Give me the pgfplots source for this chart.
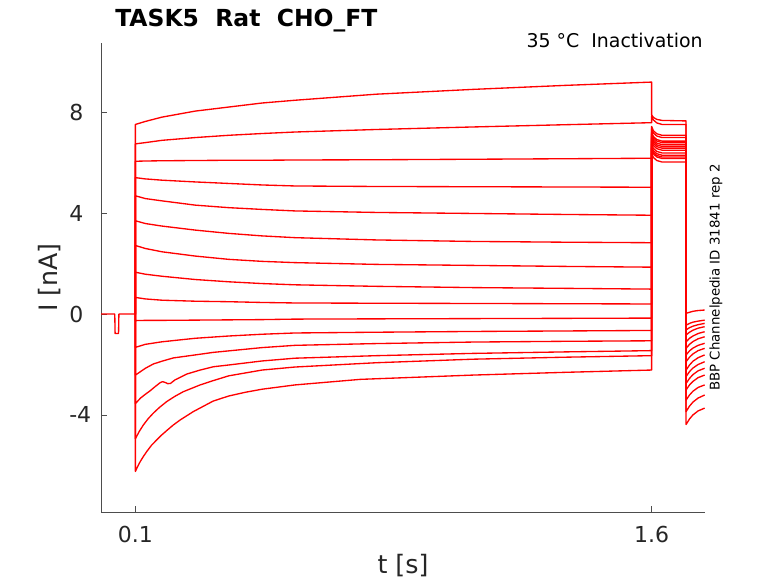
\documentclass[border=0pt]{standalone}
\usepackage{fontspec}
\setmainfont{DejaVu Sans}
\usepackage{pgfplots}
\pgfplotsset{compat=1.18}
\definecolor{axgray}{HTML}{262626}
\definecolor{axline}{HTML}{4D4D4D}
\tikzset{tr/.style={red, line width=1pt, no markers, solid, line join=round}}
\begin{document}
\begin{tikzpicture}
\path[use as bounding box] (-75.75pt,-53.25pt) rectangle (507.75pt,384pt);
\begin{axis}[
  at={(0pt,0pt)}, anchor=south west,
  scale only axis, width=453pt, height=351.75pt,
  xmin=0, xmax=1.755, ymin=-7.85, ymax=10.75,
  axis x line*=bottom, axis y line*=left,
  axis line style={axline, line width=0.6pt, -},
  tick style={axline, line width=0.6pt},
  tick align=inside, major tick length=4.5pt,
  xtick={0.1,1.6}, xticklabels={0.1,1.6},
  ytick={-4,0,4,8}, yticklabels={-4,0,4,8},
  ticklabel style={font=\fontsize{16.5}{16.5}\selectfont, text=axgray},
  xticklabel style={anchor=north, inner sep=0pt, yshift=-10.5pt},
  yticklabel style={anchor=west, inner sep=0pt, xshift=-24pt},
  clip=false,
]
% holding segment with short test pulse
\addplot[tr] coordinates {(0,0) (0.040,0) (0.041,-0.77) (0.051,-0.77) (0.052,0) (0.1,0)};
% trace 1
\addplot[tr] coordinates {(0.1,0) (0.1,7.52) (0.129,7.64) (0.177,7.81) (0.274,8.05) (0.371,8.21) (0.468,8.37) (0.564,8.48) (0.8,8.72) (1.08,8.91) (1.35,9.07) (1.6,9.20)
 (1.6,7.90) (1.605,7.80) (1.615,7.72) (1.63,7.68) (1.70,7.66)
 (1.70,0.03) (1.71,0.07) (1.72,0.11) (1.735,0.14) (1.754,0.16)};
% trace 2
\addplot[tr] coordinates {(0.1,0) (0.1,6.75) (0.129,6.80) (0.177,6.89) (0.274,7.00) (0.371,7.09) (0.468,7.16) (0.564,7.22) (0.8,7.32) (1.08,7.42) (1.35,7.51) (1.6,7.59)
 (1.6,7.87) (1.605,7.70) (1.615,7.58) (1.63,7.52) (1.70,7.52)
 (1.70,-0.44) (1.71,-0.37) (1.72,-0.32) (1.735,-0.28) (1.754,-0.24)};
% trace 3
\addplot[tr] coordinates {(0.1,0) (0.1,6.06) (0.129,6.07) (0.177,6.08) (0.274,6.09) (0.371,6.10) (0.468,6.10) (0.564,6.11) (0.8,6.12) (1.08,6.14) (1.35,6.16) (1.6,6.18)
 (1.6,7.44) (1.605,7.27) (1.615,7.15) (1.63,7.09) (1.70,7.09)
 (1.70,-0.63) (1.71,-0.54) (1.72,-0.48) (1.735,-0.42) (1.754,-0.37)};
% trace 4
\addplot[tr] coordinates {(0.1,0) (0.1,5.41) (0.129,5.36) (0.177,5.31) (0.274,5.24) (0.371,5.18) (0.468,5.12) (0.564,5.08) (0.8,5.06) (1.08,5.05) (1.35,5.04) (1.6,5.03)
 (1.6,7.35) (1.605,7.18) (1.615,7.06) (1.63,7.00) (1.70,7.00)
 (1.70,-0.83) (1.71,-0.72) (1.72,-0.64) (1.735,-0.56) (1.754,-0.50)};
% trace 5
\addplot[tr] coordinates {(0.1,0) (0.1,4.69) (0.129,4.58) (0.177,4.49) (0.274,4.32) (0.371,4.22) (0.468,4.15) (0.564,4.09) (0.8,4.03) (1.08,3.99) (1.35,3.95) (1.6,3.92)
 (1.6,7.21) (1.605,7.04) (1.615,6.92) (1.63,6.86) (1.70,6.86)
 (1.70,-1.10) (1.71,-0.96) (1.72,-0.87) (1.735,-0.77) (1.754,-0.70)};
% trace 6
\addplot[tr] coordinates {(0.1,0) (0.1,3.70) (0.129,3.59) (0.177,3.49) (0.274,3.33) (0.371,3.20) (0.468,3.10) (0.564,3.03) (0.8,2.94) (1.08,2.88) (1.35,2.85) (1.6,2.83)
 (1.6,7.15) (1.605,6.98) (1.615,6.86) (1.63,6.80) (1.70,6.80)
 (1.70,-1.36) (1.71,-1.20) (1.72,-1.09) (1.735,-0.98) (1.754,-0.90)};
% trace 7
\addplot[tr] coordinates {(0.1,0) (0.1,2.72) (0.129,2.60) (0.177,2.47) (0.274,2.30) (0.371,2.17) (0.468,2.09) (0.564,2.04) (0.8,1.97) (1.08,1.93) (1.35,1.89) (1.6,1.86)
 (1.6,7.07) (1.605,6.90) (1.615,6.78) (1.63,6.72) (1.70,6.72)
 (1.70,-1.62) (1.71,-1.46) (1.72,-1.35) (1.735,-1.24) (1.754,-1.16)};
% trace 8
\addplot[tr] coordinates {(0.1,0) (0.1,1.66) (0.129,1.58) (0.177,1.50) (0.274,1.37) (0.371,1.28) (0.468,1.21) (0.564,1.16) (0.8,1.10) (1.08,1.05) (1.35,1.02) (1.6,0.99)
 (1.6,7.00) (1.605,6.83) (1.615,6.71) (1.63,6.65) (1.70,6.65)
 (1.70,-1.89) (1.71,-1.71) (1.72,-1.58) (1.735,-1.45) (1.754,-1.36)};
% trace 9
\addplot[tr] coordinates {(0.1,0) (0.1,0.66) (0.129,0.60) (0.177,0.55) (0.274,0.51) (0.371,0.49) (0.468,0.46) (0.564,0.44) (0.8,0.43) (1.08,0.42) (1.35,0.41) (1.6,0.40)
 (1.6,6.93) (1.605,6.76) (1.615,6.64) (1.63,6.58) (1.70,6.58)
 (1.70,-2.22) (1.71,-2.02) (1.72,-1.87) (1.735,-1.73) (1.754,-1.62)};
% trace 10
\addplot[tr] coordinates {(0.1,0) (0.1,-0.26) (0.129,-0.25) (0.177,-0.25) (0.274,-0.24) (0.371,-0.23) (0.468,-0.22) (0.564,-0.20) (0.8,-0.19) (1.08,-0.18) (1.35,-0.17) (1.6,-0.16)
 (1.6,6.85) (1.605,6.68) (1.615,6.56) (1.63,6.50) (1.70,6.50)
 (1.70,-2.48) (1.71,-2.28) (1.72,-2.14) (1.735,-2.00) (1.754,-1.89)};
% trace 11
\addplot[tr] coordinates {(0.1,0) (0.1,-1.32) (0.129,-1.20) (0.177,-1.10) (0.274,-0.96) (0.371,-0.87) (0.468,-0.80) (0.564,-0.75) (0.8,-0.72) (1.08,-0.69) (1.35,-0.67) (1.6,-0.65)
 (1.6,6.74) (1.605,6.57) (1.615,6.45) (1.63,6.39) (1.70,6.39)
 (1.70,-2.75) (1.71,-2.55) (1.72,-2.40) (1.735,-2.25) (1.754,-2.15)};
% trace 12
\addplot[tr] coordinates {(0.1,0) (0.1,-2.42) (0.129,-2.15) (0.152,-1.98) (0.177,-1.87) (0.21,-1.74) (0.274,-1.62) (0.326,-1.52) (0.371,-1.46) (0.468,-1.33) (0.564,-1.24) (0.8,-1.17) (1.08,-1.11) (1.35,-1.08) (1.6,-1.06)
 (1.6,6.65) (1.605,6.48) (1.615,6.36) (1.63,6.30) (1.70,6.30)
 (1.70,-3.01) (1.71,-2.81) (1.72,-2.67) (1.735,-2.52) (1.754,-2.42)};
% trace 13
\addplot[tr] coordinates {(0.1,0) (0.1,-3.55) (0.115,-3.33) (0.129,-3.18) (0.143,-3.04) (0.158,-2.87) (0.172,-2.72) (0.179,-2.68) (0.186,-2.71) (0.194,-2.76) (0.202,-2.75) (0.215,-2.61) (0.249,-2.38) (0.288,-2.22) (0.326,-2.09) (0.371,-2.02) (0.468,-1.86) (0.564,-1.75) (0.8,-1.65) (1.08,-1.56) (1.35,-1.50) (1.6,-1.45)
 (1.6,6.58) (1.605,6.41) (1.615,6.29) (1.63,6.23) (1.70,6.23)
 (1.70,-3.41) (1.71,-3.21) (1.72,-3.06) (1.735,-2.91) (1.754,-2.81)};
% trace 14
\addplot[tr] coordinates {(0.1,0) (0.1,-4.95) (0.11,-4.68) (0.123,-4.40) (0.137,-4.15) (0.152,-3.93) (0.17,-3.70) (0.191,-3.47) (0.215,-3.26) (0.239,-3.08) (0.288,-2.81) (0.326,-2.64) (0.371,-2.45) (0.468,-2.22) (0.564,-2.10) (0.8,-1.93) (1.08,-1.79) (1.35,-1.71) (1.6,-1.65)
 (1.6,6.52) (1.605,6.35) (1.615,6.23) (1.63,6.17) (1.70,6.17)
 (1.70,-3.87) (1.71,-3.65) (1.72,-3.49) (1.735,-3.33) (1.754,-3.21)};
% trace 15
\addplot[tr] coordinates {(0.1,0) (0.1,-6.24) (0.107,-6.03) (0.114,-5.85) (0.123,-5.65) (0.133,-5.45) (0.147,-5.20) (0.162,-4.99) (0.176,-4.80) (0.191,-4.62) (0.21,-4.40) (0.23,-4.20) (0.268,-3.87) (0.326,-3.45) (0.371,-3.25) (0.42,-3.10) (0.468,-2.98) (0.564,-2.81) (0.753,-2.59) (1.08,-2.42) (1.35,-2.31) (1.6,-2.22)
 (1.6,6.38) (1.605,6.21) (1.615,6.09) (1.63,6.03) (1.70,6.03)
 (1.70,-4.38) (1.71,-4.16) (1.72,-4.00) (1.735,-3.84) (1.754,-3.73)};
\end{axis}
\node[rotate=90, font=\fontsize{19}{19}\selectfont, text=axgray] at (-38.25pt,175.9pt) {I [nA]};
\node[font=\fontsize{19}{19}\selectfont, text=axgray] at (226.5pt,-40.5pt) {t [s]};
\node[anchor=base west, inner sep=0pt, font=\bfseries\fontsize{17.6}{17.6}\selectfont] at (10.5pt,363.75pt) {TASK5\ \ Rat\ \ CHO\_FT};
\node[anchor=base east, inner sep=0pt, font=\fontsize{14.2}{14.2}\selectfont] at (451.5pt,348pt) {35 °C\ \ Inactivation};
\node[rotate=90, inner sep=0pt, font=\fontsize{10}{10}\selectfont] at (461.25pt,175.9pt) {BBP Channelpedia ID 31841 rep 2};
\end{tikzpicture}
\end{document}
